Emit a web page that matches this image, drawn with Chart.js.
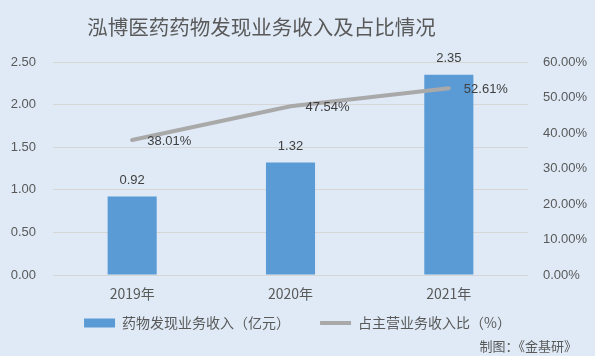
<!DOCTYPE html>
<html>
<head>
<meta charset="utf-8">
<script src="https://cdn.jsdelivr.net/npm/chart.js@4/dist/chart.umd.min.js"></script>
<style>
html,body{margin:0;padding:0;background:#dfeaf6;}
#wrap{position:relative;width:595px;height:356px;}
</style>
</head>
<body>
<div id="wrap"><canvas id="c" width="595" height="356"></canvas></div>
<script>
const titleText = '泓博医药药物发现业务收入及占比情况';
const sourceText = '制图：《金基研》';
const categories = ['2019年', '2020年', '2021年'];
const revenue = [0.92, 1.32, 2.35];
const share = [38.01, 47.54, 52.61];
const revenueLabel = '药物发现业务收入（亿元）';
const shareLabel = '占主营业务收入比（%）';
const leftTicks = [0, 0.5, 1, 1.5, 2, 2.5];
const rightTicks = [0, 10, 20, 30, 40, 50, 60];

const BG = '#dfeaf6';
const TXT = '#595959';
const NUMFONT = '"Liberation Sans", Arial, sans-serif';
const CJKFONT = '"Noto Sans CJK SC", "Liberation Sans", sans-serif';
const LEGEND_TEXT_Y = 323;
const LEGEND_PAD = 30;
const LEGEND_FONT = 14;

const extras = {
  id: 'extras',
  beforeDraw(chart) {
    const ctx = chart.ctx;
    ctx.save();
    ctx.fillStyle = BG;
    ctx.fillRect(0, 0, chart.width, chart.height);
    ctx.restore();
  },
  afterLayout(chart) {
    const lg = chart.legend;
    if (lg) {
      const target = LEGEND_TEXT_Y - LEGEND_PAD - LEGEND_FONT / 2;
      const dy = target - lg.top;
      lg.top += dy;
      lg.bottom += dy;
    }
  },
  afterDatasetsDraw(chart) {
    const ctx = chart.ctx;
    ctx.save();
    ctx.font = '13px ' + NUMFONT;
    ctx.fillStyle = '#404040';
    ctx.textBaseline = 'middle';
    const barMeta = chart.getDatasetMeta(1);
    ctx.textAlign = 'center';
    barMeta.data.forEach((el, i) => {
      ctx.fillText(revenue[i].toFixed(2), el.x, el.y - 16);
    });
    const lineMeta = chart.getDatasetMeta(0);
    ctx.textAlign = 'left';
    lineMeta.data.forEach((el, i) => {
      ctx.fillText(share[i].toFixed(2) + '%', el.x + 15, el.y + 1);
    });
    ctx.restore();
  },
  afterDraw(chart) {
    const ctx = chart.ctx;
    ctx.save();
    ctx.fillStyle = TXT;
    ctx.textBaseline = 'middle';
    ctx.textAlign = 'center';
    ctx.font = '20.5px ' + CJKFONT;
    ctx.fillText(titleText, 261.5, 27);
    ctx.textAlign = 'right';
    ctx.font = '13px ' + CJKFONT;
    ctx.fillText(sourceText, 577, 346);
    ctx.restore();
  }
};

new Chart(document.getElementById('c'), {
  data: {
    labels: categories,
    datasets: [
      {
        type: 'line',
        label: shareLabel,
        data: share,
        yAxisID: 'y1',
        borderColor: '#a9a9a9',
        backgroundColor: '#a9a9a9',
        borderWidth: 4,
        borderCapStyle: 'round',
        pointRadius: 0,
        pointHoverRadius: 0,
        tension: 0,
        order: 0
      },
      {
        type: 'bar',
        label: revenueLabel,
        data: revenue,
        yAxisID: 'y',
        backgroundColor: '#5b9bd5',
        borderWidth: 0,
        categoryPercentage: 1,
        barPercentage: 0.31,
        order: 1
      }
    ]
  },
  plugins: [extras],
  options: {
    responsive: false,
    animation: false,
    devicePixelRatio: 1,
    layout: { padding: { top: 62, bottom: 0, left: 0, right: 0 } },
    plugins: {
      title: { display: false },
      tooltip: { enabled: false },
      legend: {
        display: true,
        position: 'bottom',
        labels: {
          usePointStyle: true,
          pointStyleWidth: 31,
          boxHeight: 9,
          padding: LEGEND_PAD,
          color: TXT,
          font: { size: LEGEND_FONT, family: CJKFONT },
          generateLabels(chart) {
            return [
              { text: revenueLabel, fillStyle: '#5b9bd5', strokeStyle: '#5b9bd5', lineWidth: 0, pointStyle: 'rect', datasetIndex: 1, fontColor: TXT },
              { text: shareLabel, fillStyle: '#a9a9a9', strokeStyle: '#a9a9a9', lineWidth: 4, pointStyle: 'line', datasetIndex: 0, fontColor: TXT }
            ];
          }
        }
      }
    },
    scales: {
      x: {
        grid: { display: false },
        border: { display: false },
        ticks: { color: TXT, font: { size: 14, family: CJKFONT }, padding: 2 },
        afterFit(s) { s.height = 27; }
      },
      y: {
        position: 'left',
        min: 0,
        max: 2.5,
        afterBuildTicks(s) { s.ticks = leftTicks.map(v => ({ value: v })); },
        ticks: {
          color: TXT,
          font: { size: 13, family: NUMFONT },
          padding: 17,
          callback: v => Number(v).toFixed(2)
        },
        grid: { color: '#d6d6d6', lineWidth: 1, drawTicks: false },
        border: { display: false },
        afterFit(s) { s.width = 53; }
      },
      y1: {
        position: 'right',
        min: 0,
        max: 60,
        afterBuildTicks(s) { s.ticks = rightTicks.map(v => ({ value: v })); },
        ticks: {
          color: TXT,
          font: { size: 13, family: NUMFONT },
          padding: 15,
          callback: v => Number(v).toFixed(2) + '%'
        },
        grid: { display: false, drawTicks: false },
        border: { display: false },
        afterFit(s) { s.width = 67; }
      }
    }
  }
});
</script>
</body>
</html>
